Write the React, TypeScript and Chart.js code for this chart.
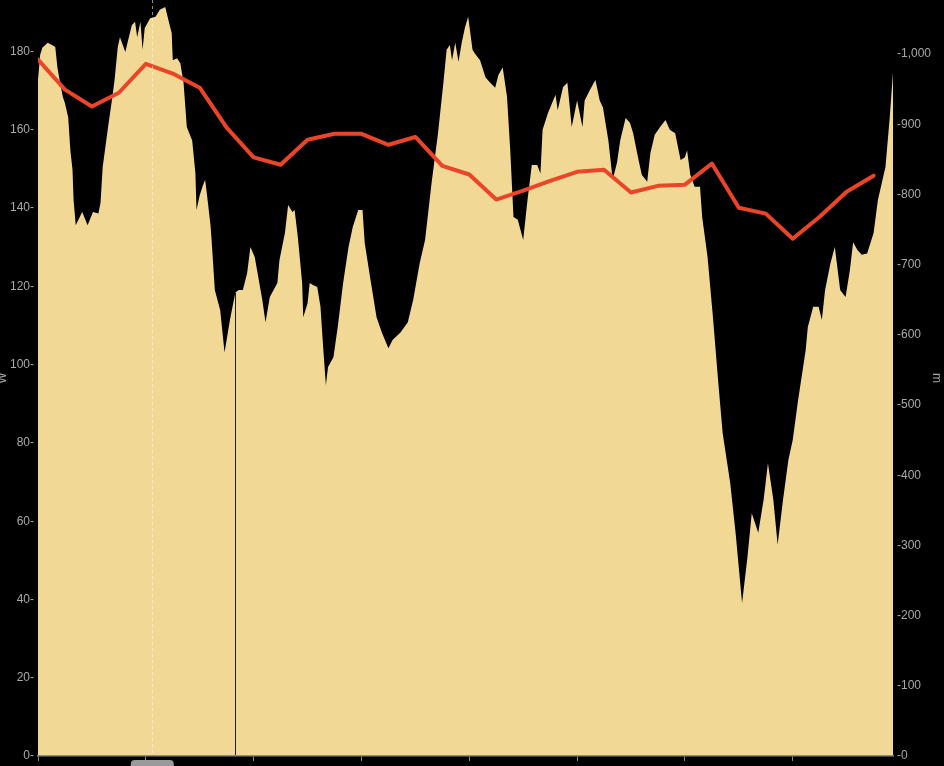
import { useEffect, useRef } from 'react'
import { Chart, registerables } from 'chart.js'

Chart.register(...registerables)

// elevation profile, distance (km) / elevation (m)
const elevDist = [
  0.00, 0.02, 0.04, 0.09, 0.13, 0.16, 0.18, 0.20, 0.23, 0.25,
  0.28, 0.30, 0.32, 0.33, 0.35, 0.41, 0.46, 0.51, 0.56, 0.58,
  0.60, 0.65, 0.69, 0.71, 0.74, 0.76, 0.81, 0.83, 0.87, 0.90,
  0.92, 0.95, 0.97, 0.99, 1.04, 1.09, 1.13, 1.18, 1.21, 1.24,
  1.25, 1.29, 1.32, 1.35, 1.38, 1.43, 1.46, 1.47, 1.50, 1.53,
  1.55, 1.57, 1.60, 1.61, 1.64, 1.69, 1.73, 1.78, 1.83, 1.86,
  1.90, 1.94, 1.97, 2.01, 2.04, 2.08, 2.11, 2.15, 2.22, 2.24,
  2.29, 2.32, 2.36, 2.38, 2.41, 2.45, 2.46, 2.50, 2.52, 2.55,
  2.59, 2.62, 2.64, 2.67, 2.69, 2.74, 2.78, 2.83, 2.88, 2.92,
  2.97, 3.01, 3.03, 3.08, 3.14, 3.19, 3.25, 3.29, 3.36, 3.43,
  3.48, 3.54, 3.59, 3.65, 3.71, 3.76, 3.79, 3.82, 3.84, 3.87,
  3.90, 3.93, 3.96, 3.99, 4.03, 4.05, 4.10, 4.15, 4.19, 4.24,
  4.27, 4.31, 4.35, 4.38, 4.41, 4.45, 4.50, 4.54, 4.58, 4.63,
  4.66, 4.68, 4.73, 4.80, 4.82, 4.87, 4.91, 4.95, 5.00, 5.05,
  5.07, 5.12, 5.17, 5.21, 5.24, 5.29, 5.33, 5.37, 5.40, 5.45,
  5.49, 5.52, 5.57, 5.60, 5.65, 5.68, 5.72, 5.77, 5.82, 5.86,
  5.91, 5.96, 6.00, 6.02, 6.05, 6.09, 6.14, 6.16, 6.21, 6.26,
  6.31, 6.35, 6.42, 6.47, 6.53, 6.58, 6.62, 6.65, 6.68, 6.73,
  6.77, 6.82, 6.86, 6.91, 6.96, 7.00, 7.05, 7.12, 7.14, 7.19,
  7.24, 7.27, 7.30, 7.35, 7.39, 7.44, 7.49, 7.53, 7.56, 7.60,
  7.64, 7.69, 7.75, 7.79, 7.86, 7.90, 7.93,
]
const elevM = [
  963, 999, 1009, 1016, 1013, 1010, 981, 963, 939, 930,
  910, 863, 835, 792, 756, 775, 756, 775, 773, 788,
  839, 896, 939, 963, 1010, 1024, 1003, 1016, 1041, 1046,
  1024, 1046, 1006, 1037, 1051, 1053, 1063, 1067, 1048, 1030,
  991, 994, 987, 959, 896, 877, 830, 778, 799, 813,
  821, 796, 756, 735, 664, 635, 575, 621, 660, 664,
  664, 688, 725, 711, 685, 650, 618, 654, 674, 707,
  745, 785, 775, 778, 739, 674, 625, 645, 674, 671,
  668, 640, 593, 528, 554, 568, 611, 674, 725, 754,
  778, 778, 731, 682, 625, 603, 581, 593, 603, 618,
  650, 702, 735, 816, 887, 959, 1006, 1013, 991, 1016,
  989, 1016, 1038, 1053, 1006, 1001, 991, 967, 960, 952,
  970, 981, 939, 863, 768, 764, 735, 792, 842, 842,
  830, 892, 916, 942, 920, 953, 959, 896, 934, 896,
  934, 949, 963, 934, 924, 877, 821, 845, 877, 909,
  902, 887, 849, 828, 818, 859, 885, 896, 906, 892,
  887, 849, 853, 863, 828, 811, 811, 768, 711, 625,
  531, 460, 389, 318, 218, 283, 346, 332, 318, 365,
  417, 365, 301, 365, 422, 450, 507, 578, 611, 640,
  640, 621, 664, 702, 725, 664, 654, 692, 732, 721,
  714, 716, 745, 792, 839, 910, 974,
]

// power samples (W)
const powerDist = [
  0, 0.25, 0.5, 0.75, 1, 1.25, 1.5, 1.75, 2, 2.25, 2.5, 2.75, 3, 3.25, 3.5, 3.75,
  4, 4.25, 4.5, 4.75, 5, 5.25, 5.5, 5.75, 6, 6.25, 6.5, 6.75, 7, 7.25, 7.5, 7.75,
]
const powerW = [
  178.0, 170.3, 166.0, 169.5, 176.9, 174.4, 170.8, 160.6, 153.0, 151.1, 157.5, 159.0, 159.0, 156.2, 158.2, 150.8,
  148.6, 142.2, 144.5, 147.0, 149.3, 149.8, 144.0, 145.7, 146.0, 151.4, 140.1, 138.6, 132.2, 137.8, 144.2, 148.3,
]

const cursorDist = 1.06
const markerDist = 1.83

const labelColor = '#a8a8a8'
const font = { family: "'Liberation Sans', Arial, sans-serif", size: 12 }

function elevAt(d: number) {
  for (let i = 1; i < elevDist.length; i++) {
    if (elevDist[i] >= d) {
      const t = (d - elevDist[i - 1]) / (elevDist[i] - elevDist[i - 1])
      return elevM[i - 1] + t * (elevM[i] - elevM[i - 1])
    }
  }
  return elevM[elevM.length - 1]
}

const markers = {
  id: 'markers',
  afterDatasetsDraw(chart: any) {
    const { ctx, chartArea, scales } = chart
    const mx = Math.round(scales.x.getPixelForValue(markerDist)) + 0.5
    const my = scales.yElev.getPixelForValue(elevAt(markerDist))
    ctx.save()
    ctx.strokeStyle = '#1c1c1c'
    ctx.lineWidth = 1
    ctx.beginPath()
    ctx.moveTo(mx, my)
    ctx.lineTo(mx, chartArea.bottom)
    ctx.stroke()

    const cx = Math.round(scales.x.getPixelForValue(cursorDist)) + 0.5
    ctx.strokeStyle = 'rgba(255,255,255,0.55)'
    ctx.setLineDash([3, 3])
    ctx.beginPath()
    ctx.moveTo(cx, chartArea.top)
    ctx.lineTo(cx, chartArea.bottom)
    ctx.stroke()
    ctx.restore()
  },
  afterDraw(chart: any) {
    const { ctx, chartArea, scales } = chart
    const cx = scales.x.getPixelForValue(cursorDist)
    ctx.save()
    ctx.fillStyle = '#9a9a9a'
    ctx.beginPath()
    ctx.roundRect(cx - 21.5, chartArea.bottom + 4, 43, 12, 4)
    ctx.fill()
    ctx.restore()
  },
}

const noPad = (s: any) => {
  s.paddingTop = 0
  s.paddingBottom = 0
  s.paddingLeft = 0
  s.paddingRight = 0
}

export default function App() {
  const canvasRef = useRef<HTMLCanvasElement>(null)
  const chartRef = useRef<any>(null)

  useEffect(() => {
    if (!canvasRef.current) return
    if (chartRef.current) chartRef.current.destroy()

    chartRef.current = new Chart(canvasRef.current, {
      type: 'line',
      data: {
        datasets: [
          {
            label: 'Power',
            data: powerDist.map((d, i) => ({ x: d, y: powerW[i] })),
            yAxisID: 'yPow',
            borderColor: '#ea4529',
            borderWidth: 4,
            borderJoinStyle: 'round',
            borderCapStyle: 'round',
            pointRadius: 0,
            tension: 0,
            fill: false,
          },
          {
            label: 'Elevation',
            data: elevDist.map((d, i) => ({ x: d, y: elevM[i] })),
            yAxisID: 'yElev',
            backgroundColor: '#f1d995',
            borderWidth: 0,
            pointRadius: 0,
            tension: 0,
            fill: 'origin',
          },
        ],
      },
      options: {
        responsive: true,
        maintainAspectRatio: false,
        animation: false,
        layout: { padding: 0 },
        plugins: {
          legend: { display: false },
          tooltip: { enabled: false },
        },
        scales: {
          x: {
            type: 'linear',
            min: 0,
            max: 7.93,
            ticks: { display: false, stepSize: 1, includeBounds: false },
            grid: { drawOnChartArea: false, drawTicks: true, tickLength: 5, tickColor: '#8a8a8a' },
            border: { color: '#8a8a8a', width: 1.5, z: 1 },
            afterFit: (s: any) => {
              s.height = 10
              noPad(s)
            },
          },
          yPow: {
            type: 'linear',
            position: 'left',
            min: 0,
            max: 193.2,
            ticks: {
              stepSize: 20,
              includeBounds: false,
              color: labelColor,
              font,
              padding: 4,
              callback: (v: any) => `${v}-`,
            },
            grid: { display: false, drawTicks: false },
            border: { display: false },
            title: { display: true, text: 'W', color: labelColor, font, padding: { top: -5, bottom: 0 } },
            afterFit: (s: any) => {
              s.width = 38
              noPad(s)
            },
          },
          yElev: {
            type: 'linear',
            position: 'right',
            min: 0,
            max: 1077,
            ticks: {
              stepSize: 100,
              includeBounds: false,
              color: labelColor,
              font,
              padding: 4,
              callback: (v: any) => '-' + Number(v).toLocaleString('en-US'),
            },
            grid: { display: false, drawTicks: false },
            border: { display: false },
            title: { display: true, text: 'm', color: labelColor, font, padding: { top: 0, bottom: 0 } },
            afterFit: (s: any) => {
              s.width = 51
              noPad(s)
            },
          },
        },
      },
      plugins: [markers],
    })

    return () => {
      if (chartRef.current) chartRef.current.destroy()
      chartRef.current = null
    }
  }, [])

  return (
    <div style={{ position: 'fixed', left: 0, top: 0, width: 944, height: 766, background: '#000' }}>
      <canvas ref={canvasRef} />
    </div>
  )
}
